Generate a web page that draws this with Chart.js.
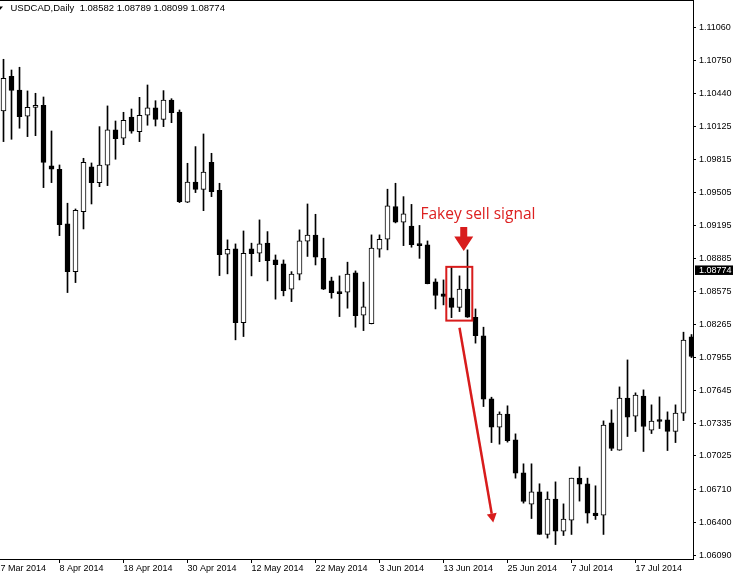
<!DOCTYPE html>
<html>
<head>
<meta charset="utf-8">
<title>USDCAD Daily</title>
<script src="https://cdn.jsdelivr.net/npm/chart.js@4.4.1/dist/chart.umd.min.js"></script>
<style>
  html, body { margin: 0; padding: 0; background: #fff; }
  body { position: relative; width: 735px; height: 577px; overflow: hidden; }
  #chart { position: absolute; left: -20px; top: 0; }
  #header { position: absolute; left: 10.5px; top: 3.4px; font: 9.5px/10px "Liberation Sans", Arial, sans-serif; color: #000; white-space: pre; }
  #note { position: absolute; left: 420.5px; top: 205px; font: 15.5px/16px "Open Sans", sans-serif; color: #dd2020; white-space: nowrap; }
</style>
</head>
<body>
<canvas id="chart" width="755" height="577"></canvas>
<div id="header"></div>
<div id="note">Fakey sell signal</div>
<script>
// USDCAD daily bars, first visible bar is 28 Mar 2014
const openPrices = [
  1.10273, 1.10599, 1.10470, 1.10223, 1.10307, 1.10326, 1.09755, 1.09724, 1.09209, 1.08760,
  1.09325, 1.09746, 1.09598, 1.09762, 1.10094, 1.10016, 1.10216, 1.10078, 1.10232, 1.10301,
  1.10194, 1.10376, 1.10263, 1.09413, 1.09602, 1.09534, 1.09790, 1.09526, 1.08924, 1.08974,
  1.08280, 1.08974, 1.08933, 1.09030, 1.08870, 1.08833, 1.08595, 1.08736, 1.09046, 1.09103,
  1.08886, 1.08673, 1.08567, 1.08567, 1.08748, 1.08350, 1.08271, 1.08971, 1.09065, 1.09372,
  1.09225, 1.09190, 1.09021, 1.09012, 1.08663, 1.08551, 1.08513, 1.08423, 1.08596, 1.08331,
  1.08155, 1.07562, 1.07296, 1.07418, 1.07177, 1.06866, 1.06572, 1.06687, 1.06286, 1.06619,
  1.06318, 1.06421, 1.06816, 1.06763, 1.06487, 1.06468, 1.07337, 1.07080, 1.07569, 1.07400,
  1.07588, 1.07268, 1.07365, 1.07365, 1.07255, 1.07428, 1.08146
];
const highPrices = [
  1.10759, 1.10658, 1.10684, 1.10461, 1.10439, 1.10404, 1.10084, 1.09764, 1.09404, 1.09350,
  1.09827, 1.09783, 1.10125, 1.10320, 1.10178, 1.10260, 1.10291, 1.10401, 1.10517, 1.10369,
  1.10464, 1.10388, 1.10282, 1.09780, 1.09937, 1.10056, 1.09874, 1.09592, 1.09059, 1.09021,
  1.09143, 1.09028, 1.09247, 1.09137, 1.08917, 1.08870, 1.08760, 1.09153, 1.09397, 1.09300,
  1.09075, 1.08708, 1.08720, 1.08849, 1.08767, 1.08661, 1.09106, 1.09106, 1.09536, 1.09592,
  1.09466, 1.09393, 1.09195, 1.09049, 1.08692, 1.08682, 1.08805, 1.08720, 1.08965, 1.08409,
  1.08237, 1.07578, 1.07440, 1.07497, 1.07233, 1.06951, 1.06951, 1.06763, 1.06687, 1.06781,
  1.06574, 1.06816, 1.06923, 1.06816, 1.06744, 1.07355, 1.07459, 1.07675, 1.07929, 1.07619,
  1.07647, 1.07506, 1.07581, 1.07440, 1.07506, 1.08190, 1.08168
];
const lowPrices = [
  1.09984, 1.10006, 1.10110, 1.10031, 1.10040, 1.09551, 1.09598, 1.09099, 1.08563, 1.08657,
  1.09162, 1.09397, 1.09560, 1.09570, 1.09818, 1.09955, 1.10063, 1.09984, 1.10138, 1.10131,
  1.10125, 1.10162, 1.09410, 1.09410, 1.09504, 1.09334, 1.09466, 1.08723, 1.08739, 1.08118,
  1.08149, 1.08720, 1.08854, 1.08673, 1.08501, 1.08532, 1.08478, 1.08682, 1.08903, 1.08823,
  1.08591, 1.08510, 1.08337, 1.08416, 1.08237, 1.08205, 1.08268, 1.08896, 1.08965, 1.09219,
  1.09005, 1.08990, 1.08885, 1.08645, 1.08409, 1.08447, 1.08327, 1.08384, 1.08329, 1.08087,
  1.07490, 1.07151, 1.07136, 1.07155, 1.06816, 1.06581, 1.06436, 1.06286, 1.06252, 1.06191,
  1.06276, 1.06286, 1.06600, 1.06393, 1.06427, 1.06286, 1.07076, 1.07078, 1.07208, 1.07255,
  1.07067, 1.07236, 1.07283, 1.07076, 1.07151, 1.07358, 1.07951
];
const closePrices = [
  1.10580, 1.10467, 1.10219, 1.10307, 1.10326, 1.09788, 1.09724, 1.09203, 1.08760, 1.09338,
  1.09790, 1.09598, 1.09764, 1.10094, 1.10012, 1.10185, 1.10082, 1.10232, 1.10301, 1.10194,
  1.10376, 1.10257, 1.09419, 1.09602, 1.09534, 1.09696, 1.09513, 1.08920, 1.08971, 1.08280,
  1.08933, 1.08930, 1.09021, 1.08864, 1.08826, 1.08582, 1.08736, 1.09049, 1.09103, 1.08896,
  1.08595, 1.08563, 1.08553, 1.08736, 1.08346, 1.08428, 1.08981, 1.09065, 1.09379, 1.09225,
  1.09303, 1.09013, 1.09005, 1.08646, 1.08535, 1.08527, 1.08423, 1.08596, 1.08331, 1.08158,
  1.07560, 1.07296, 1.07418, 1.07170, 1.06863, 1.06596, 1.06687, 1.06287, 1.06619, 1.06318,
  1.06430, 1.06816, 1.06760, 1.06487, 1.06464, 1.07315, 1.07095, 1.07569, 1.07390, 1.07597,
  1.07302, 1.07353, 1.07349, 1.07255, 1.07428, 1.08115, 1.07961
];

// time axis labels, one every 8 bars (the first one sits one bar left of the view)
const dateLabels = [
  '27 Mar 2014', '8 Apr 2014', '18 Apr 2014', '30 Apr 2014', '12 May 2014', '22 May 2014',
  '3 Jun 2014', '13 Jun 2014', '25 Jun 2014', '7 Jul 2014', '17 Jul 2014'
];
// price scale ticks
const priceTicks = [
  1.11060, 1.10750, 1.10440, 1.10125, 1.09815, 1.09505, 1.09195, 1.08885, 1.08575,
  1.08265, 1.07955, 1.07645, 1.07335, 1.07025, 1.06710, 1.06400, 1.06090
];
// header line: symbol and OHLC of the current bar
const symbolName = 'USDCAD,Daily';
const lastBar = [1.08582, 1.08789, 1.08099, 1.08774];

document.getElementById('header').textContent =
  symbolName + '  ' + lastBar.map(v => v.toFixed(5)).join(' ');

const axisFont = { family: "'Liberation Sans', Arial, sans-serif", size: 9 };
const red = '#d81c1c';

const bodies = openPrices.map((o, i) => ({ x: i, y: [o, closePrices[i]] }));
const wicks = lowPrices.map((l, i) => ({ x: i, y: [l, highPrices[i]] }));
const bodyFill = openPrices.map((o, i) => closePrices[i] > o ? '#fff' : '#000');

// frame, current price box and the red markup
const markup = {
  id: 'markup',
  afterDraw(chart) {
    const { ctx, chartArea, scales: { x, y } } = chart;
    ctx.save();

    // top border
    ctx.fillStyle = '#000';
    ctx.fillRect(0, 0, chartArea.right, 1);

    // little menu triangle left of the header
    ctx.beginPath();
    ctx.moveTo(16, 6.5);
    ctx.lineTo(23, 6.5);
    ctx.lineTo(19.5, 10.5);
    ctx.closePath();
    ctx.fill();

    // current price on the scale
    const py = y.getPixelForValue(lastBar[3]);
    ctx.fillRect(y.left + 2, py - 4.7, 38, 9.5);
    ctx.fillStyle = '#fff';
    ctx.font = "9px 'Liberation Sans', Arial, sans-serif";
    ctx.textBaseline = 'middle';
    ctx.fillText(lastBar[3].toFixed(5), y.left + 6, py + 0.5);

    ctx.strokeStyle = red;
    ctx.fillStyle = red;

    // box round the fakey bars
    const bx1 = x.getPixelForValue(55.35), bx2 = x.getPixelForValue(58.6);
    const by1 = y.getPixelForValue(1.08805), by2 = y.getPixelForValue(1.08299);
    ctx.lineWidth = 2;
    ctx.strokeRect(bx1, by1, bx2 - bx1, by2 - by1);

    // thick arrow pointing at the signal bar
    const tx = x.getPixelForValue(57.53), ty = y.getPixelForValue(1.08955);
    ctx.beginPath();
    ctx.moveTo(tx - 3.5, ty - 24);
    ctx.lineTo(tx + 3.5, ty - 24);
    ctx.lineTo(tx + 3.5, ty - 14.5);
    ctx.lineTo(tx + 9.5, ty - 14.5);
    ctx.lineTo(tx, ty);
    ctx.lineTo(tx - 9.5, ty - 14.5);
    ctx.lineTo(tx - 3.5, ty - 14.5);
    ctx.closePath();
    ctx.fill();

    // long arrow showing the move down
    const sx = x.getPixelForValue(57.0), sy = y.getPixelForValue(1.08231);
    const ex = x.getPixelForValue(61.22), ey = y.getPixelForValue(1.06398);
    const ang = Math.atan2(ey - sy, ex - sx);
    const hl = 9, hw = 5;
    const bxh = ex - hl * Math.cos(ang), byh = ey - hl * Math.sin(ang);
    ctx.lineWidth = 2.5;
    ctx.beginPath();
    ctx.moveTo(sx, sy);
    ctx.lineTo(bxh, byh);
    ctx.stroke();
    ctx.beginPath();
    ctx.moveTo(ex, ey);
    ctx.lineTo(bxh + hw * Math.sin(ang), byh - hw * Math.cos(ang));
    ctx.lineTo(bxh - hw * Math.sin(ang), byh + hw * Math.cos(ang));
    ctx.closePath();
    ctx.fill();

    ctx.restore();
  }
};

new Chart(document.getElementById('chart'), {
  type: 'bar',
  data: {
    datasets: [
      {
        label: 'body',
        data: bodies,
        order: 0,
        grouped: false,
        barThickness: 5,
        maxBarThickness: 5,
        minBarLength: 2,
        backgroundColor: bodyFill,
        borderColor: '#000',
        borderWidth: 1,
        borderSkipped: false
      },
      {
        label: 'wick',
        data: wicks,
        order: 1,
        grouped: false,
        barThickness: 1,
        maxBarThickness: 1,
        backgroundColor: '#000',
        borderWidth: 0
      }
    ]
  },
  options: {
    responsive: false,
    animation: false,
    events: [],
    layout: { padding: 0 },
    plugins: {
      legend: { display: false },
      tooltip: { enabled: false }
    },
    scales: {
      x: {
        type: 'linear',
        min: -2.9375,
        max: 86.1875,
        offset: false,
        afterBuildTicks: s => { s.ticks = dateLabels.map((_, k) => ({ value: 8 * k - 1 })); },
        afterFit: s => { s.height = 18; s.paddingLeft = 0; s.paddingRight = 0; },
        ticks: {
          autoSkip: false,
          maxRotation: 0,
          align: 'start',
          padding: 0,
          color: '#000',
          font: axisFont,
          callback: (v, idx) => dateLabels[idx]
        },
        grid: { drawOnChartArea: false, tickLength: 4, color: '#000', offset: false },
        border: { color: '#000' }
      },
      y: {
        type: 'linear',
        position: 'right',
        min: 1.06055,
        max: 1.11317,
        afterBuildTicks: s => { s.ticks = priceTicks.map(v => ({ value: v })); },
        afterFit: s => { s.width = 42; s.paddingTop = 0; s.paddingBottom = 0; },
        ticks: {
          padding: 3,
          color: '#000',
          font: axisFont,
          callback: v => v.toFixed(5)
        },
        grid: { drawOnChartArea: false, tickLength: 3, color: '#000' },
        border: { color: '#000' }
      }
    }
  },
  plugins: [markup]
});
</script>
</body>
</html>
